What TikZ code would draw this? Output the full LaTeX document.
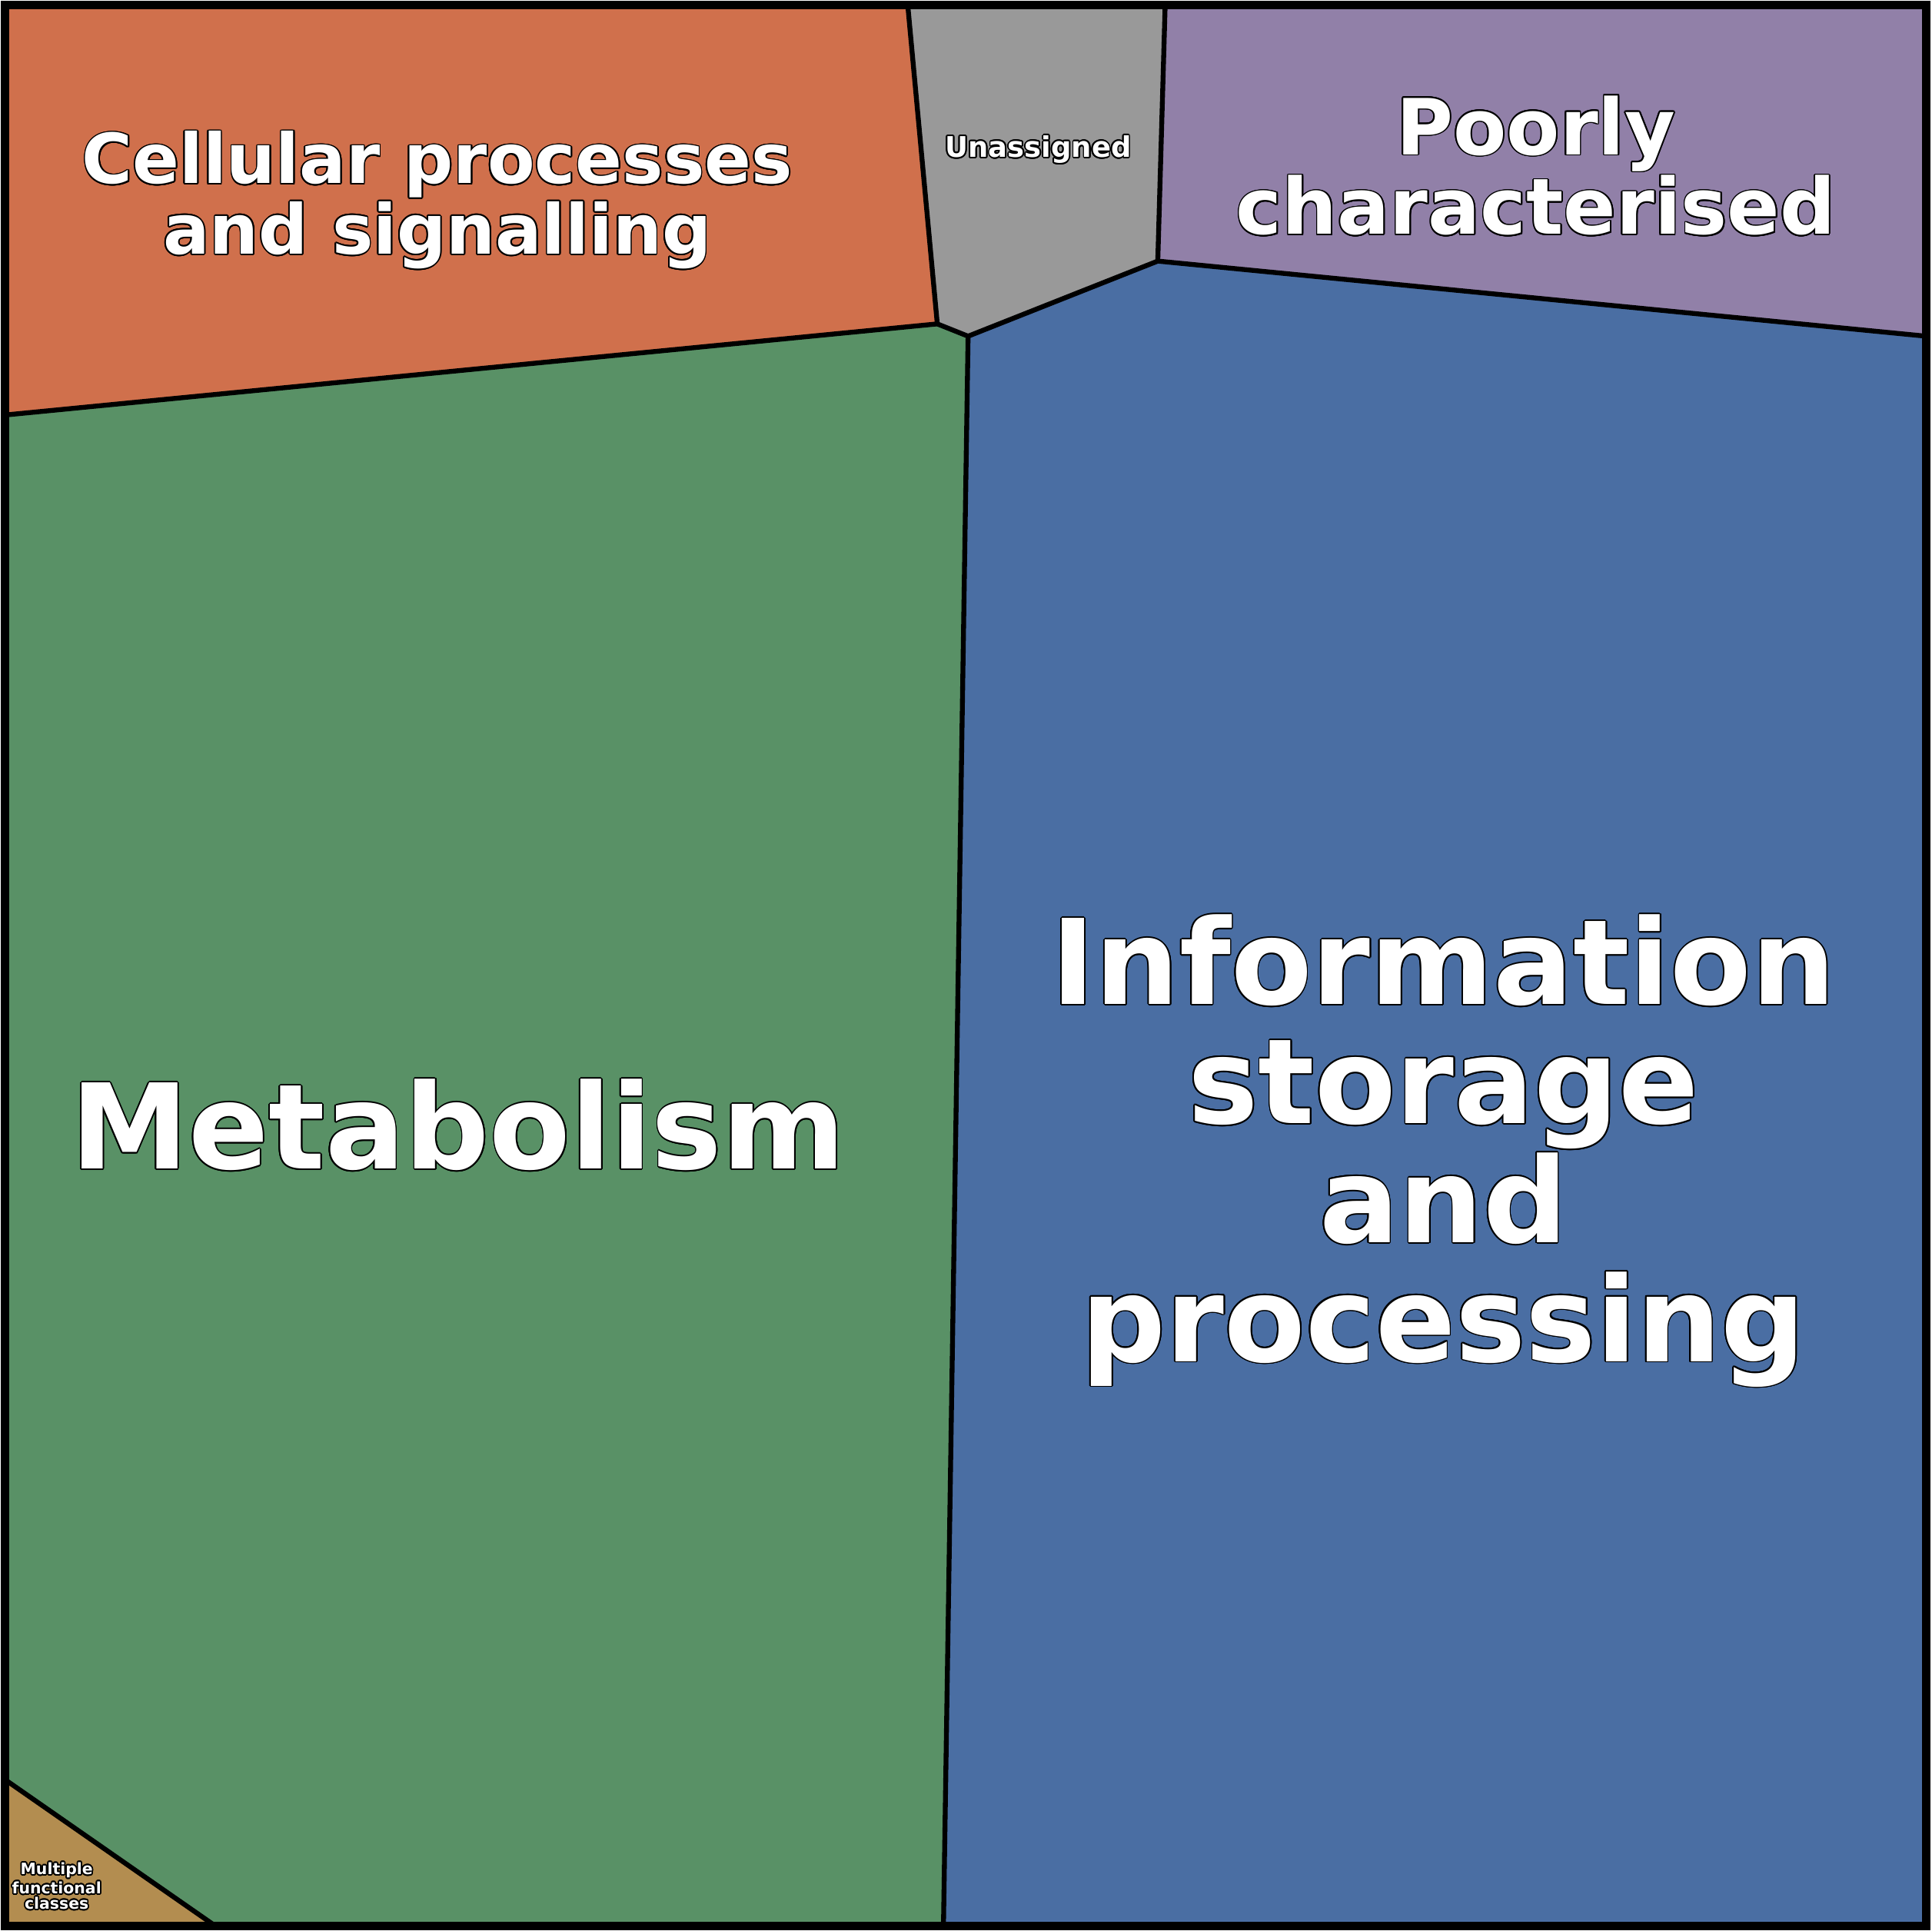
\documentclass[tikz,border=0pt]{standalone}
\usepackage{fontspec}
\setmainfont{DejaVu Sans}
\usepackage{contour}
\contourlength{0.5pt}
\contournumber{16}

\definecolor{cellcol}{HTML}{D0704C}
\definecolor{unascol}{HTML}{999999}
\definecolor{poorcol}{HTML}{9180A8}
\definecolor{infocol}{HTML}{4A6EA3}
\definecolor{metacol}{HTML}{599166}
\definecolor{multcol}{HTML}{B38D50}

\newcommand{\cl}[1]{\contour{black}{#1}}

\tikzset{
  cell/.style={draw=black, line width=1.8pt, line join=round},
  lbl/.style={text=white, font=\bfseries, align=center, inner sep=0pt},
}

\begin{document}
\begin{tikzpicture}[x=0.016cm, y=-0.016cm]
 \useasboundingbox (0,0) rectangle (1568,1568);
 % vertices of the cells
 \coordinate (tl) at (4,4);
 \coordinate (tr) at (1564,4);
 \coordinate (bl) at (4,1564);
 \coordinate (br) at (1564,1564);
 \coordinate (t1) at (737,4);
 \coordinate (t2) at (946,4);
 \coordinate (l1) at (4,337);
 \coordinate (l2) at (4,1445);
 \coordinate (r1) at (1564,273);
 \coordinate (b1) at (175,1564);
 \coordinate (b2) at (766,1564);
 \coordinate (v1) at (761,263);
 \coordinate (v2) at (786,273);
 \coordinate (v3) at (940,212);
 %
 \fill[metacol] (l1) -- (v1) -- (v2) -- (b2) -- (b1) -- (l2) -- cycle;
 \fill[cellcol] (tl) -- (t1) -- (v1) -- (l1) -- cycle;
 \fill[unascol] (t1) -- (t2) -- (v3) -- (v2) -- (v1) -- cycle;
 \fill[poorcol] (t2) -- (tr) -- (r1) -- (v3) -- cycle;
 \fill[infocol] (v2) -- (v3) -- (r1) -- (br) -- (b2) -- cycle;
 \fill[multcol] (l2) -- (b1) -- (bl) -- cycle;
 \draw[cell] (l1) -- (v1) -- (t1);
 \draw[cell] (v1) -- (v2) -- (v3) -- (t2);
 \draw[cell] (v3) -- (r1);
 \draw[cell] (v2) -- (b2);
 \draw[cell] (l2) -- (b1);
 \draw[black, line width=3.2pt] (tl) rectangle (br);
 % labels
 \node[lbl, font=\bfseries\fontsize{25.5}{26}\selectfont] (cell) at (355,163)
   {\cl{Cellular processes}\\\cl{and signalling}};
 \node[lbl, font=\bfseries\fontsize{10.5}{12}\selectfont] (unas) at (843,122)
   {\cl{Unassigned}};
 \node[lbl, font=\bfseries\fontsize{28.7}{28.2}\selectfont] (poor) at (1247,135)
   {\cl{Poorly}\\\cl{characterised}};
 \node[lbl, font=\bfseries\fontsize{43.7}{44}\selectfont] (meta) at (372,914)
   {\cl{Metabolism}};
 \node[lbl, font=\bfseries\fontsize{43.7}{44}\selectfont] (info) at (1172,935)
   {\cl{Information}\\\cl{storage}\\\cl{and}\\\cl{processing}};
 \node[lbl, font=\bfseries\fontsize{5.8}{5.7}\selectfont] (mult) at (46,1532)
   {\cl{Multiple}\\\cl{functional}\\\cl{classes}};
\end{tikzpicture}
\end{document}
